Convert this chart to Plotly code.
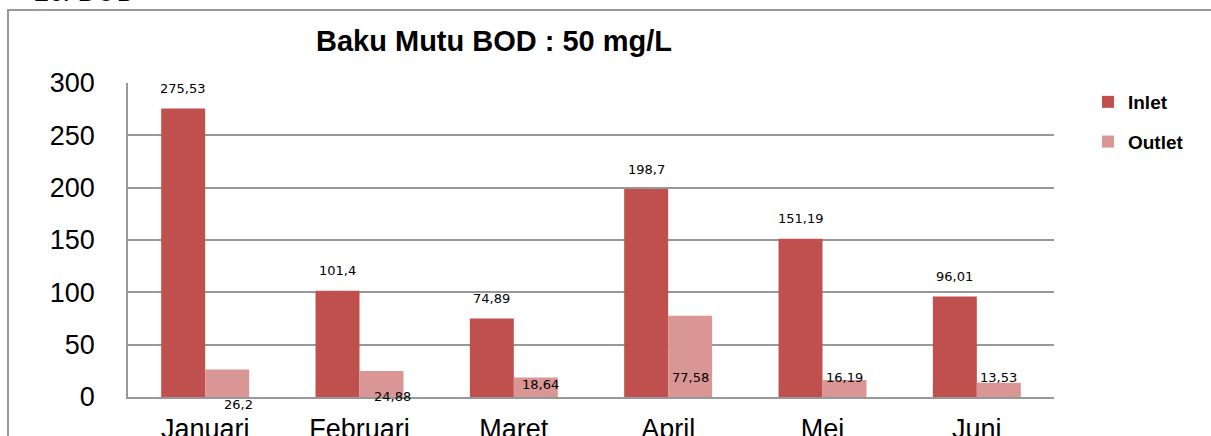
import plotly.graph_objects as go

# ---------- DATA ----------
months = ["Januari", "Februari", "Maret", "April", "Mei", "Juni"]
inlet = [275.53, 101.4, 74.89, 198.7, 151.19, 96.01]
outlet = [26.2, 24.88, 18.64, 77.58, 16.19, 13.53]
inlet_text = ["275,53", "101,4", "74,89", "198,7", "151,19", "96,01"]
outlet_text = ["26,2", "24,88", "18,64", "77,58", "16,19", "13,53"]

# outlet labels: pixel offset from the zero line, and sideways nudge
outlet_label_dy = [-7, 1, 12.5, 19.5, 19.5, 19.5]
outlet_label_dx = [11, 11, 5, 0, 0, 0]

INLET_COLOR = "#C0504D"
OUTLET_COLOR = "#D99694"
GRID = "#989898"

fig = go.Figure()
fig.add_trace(go.Bar(
    x=months, y=inlet, name="Inlet",
    marker=dict(color=INLET_COLOR, line=dict(width=0)),
    legendgroup="a",
))
fig.add_trace(go.Bar(
    x=months, y=outlet, name="Outlet",
    marker=dict(color=OUTLET_COLOR, line=dict(width=0)),
    legendgroup="b",
))

# ---------- DATA LABELS ----------
label_font = dict(family="DejaVu Sans", size=13, color="black")
for m, v, t in zip(months, inlet, inlet_text):
    fig.add_annotation(x=m, y=v, text=t, showarrow=False, font=label_font,
                       xshift=-22, yshift=20, yanchor="middle")
for m, dy, dx, t in zip(months, outlet_label_dy, outlet_label_dx, outlet_text):
    fig.add_annotation(x=m, y=0, text=t, showarrow=False, font=label_font,
                       xshift=22 + dx, yshift=dy, yanchor="middle")

# ---------- TITLE + HEADING ----------
fig.add_annotation(xref="paper", yref="paper", x=0.395, y=1.134,
                   text="<b>Baku Mutu BOD : 50 mg/L</b>", showarrow=False,
                   font=dict(family="Liberation Sans", size=29, color="black"),
                   yanchor="middle")
fig.add_annotation(xref="paper", yref="paper", x=-0.104, y=1.237,
                   text="2c. BOD", showarrow=False, xanchor="left",
                   yanchor="bottom",
                   font=dict(family="Liberation Sans", size=27, color="black"))

# outer chart frame
fig.add_shape(type="rect", xref="paper", yref="paper",
              x0=-0.1296, x1=1.2, y0=-0.3, y1=1.2325,
              line=dict(color=GRID, width=2), layer="below")

fig.update_layout(
    width=1211, height=436,
    margin=dict(l=128, r=157, t=83, b=39, autoexpand=False),
    paper_bgcolor="white", plot_bgcolor="white",
    barmode="group", bargap=0.43, bargroupgap=0,
    font=dict(family="Liberation Sans", color="black"),
    legend=dict(
        x=1.0367, y=1.0, xanchor="left", yanchor="top",
        font=dict(family="Liberation Sans", size=19, color="black",
                  weight="bold"),
        tracegroupgap=12, bgcolor="rgba(0,0,0,0)",
    ),
    showlegend=True,
)
fig.update_xaxes(
    automargin=False,
    showgrid=False, showline=True, linecolor=GRID, linewidth=2,
    ticks="", tickfont=dict(size=27), ticklabelstandoff=7,
)
fig.update_yaxes(
    automargin=False,
    range=[0, 300], dtick=50, showgrid=True, gridcolor=GRID, gridwidth=1.5,
    showline=True, linecolor=GRID, linewidth=1.5, zeroline=False,
    ticks="", tickfont=dict(size=27), ticklabelstandoff=26,
)

# drop the default 8px page margin so the figure fills the window
fig.write_html("out.html", config={"displayModeBar": False},
               post_script="document.body.style.margin='0';")
